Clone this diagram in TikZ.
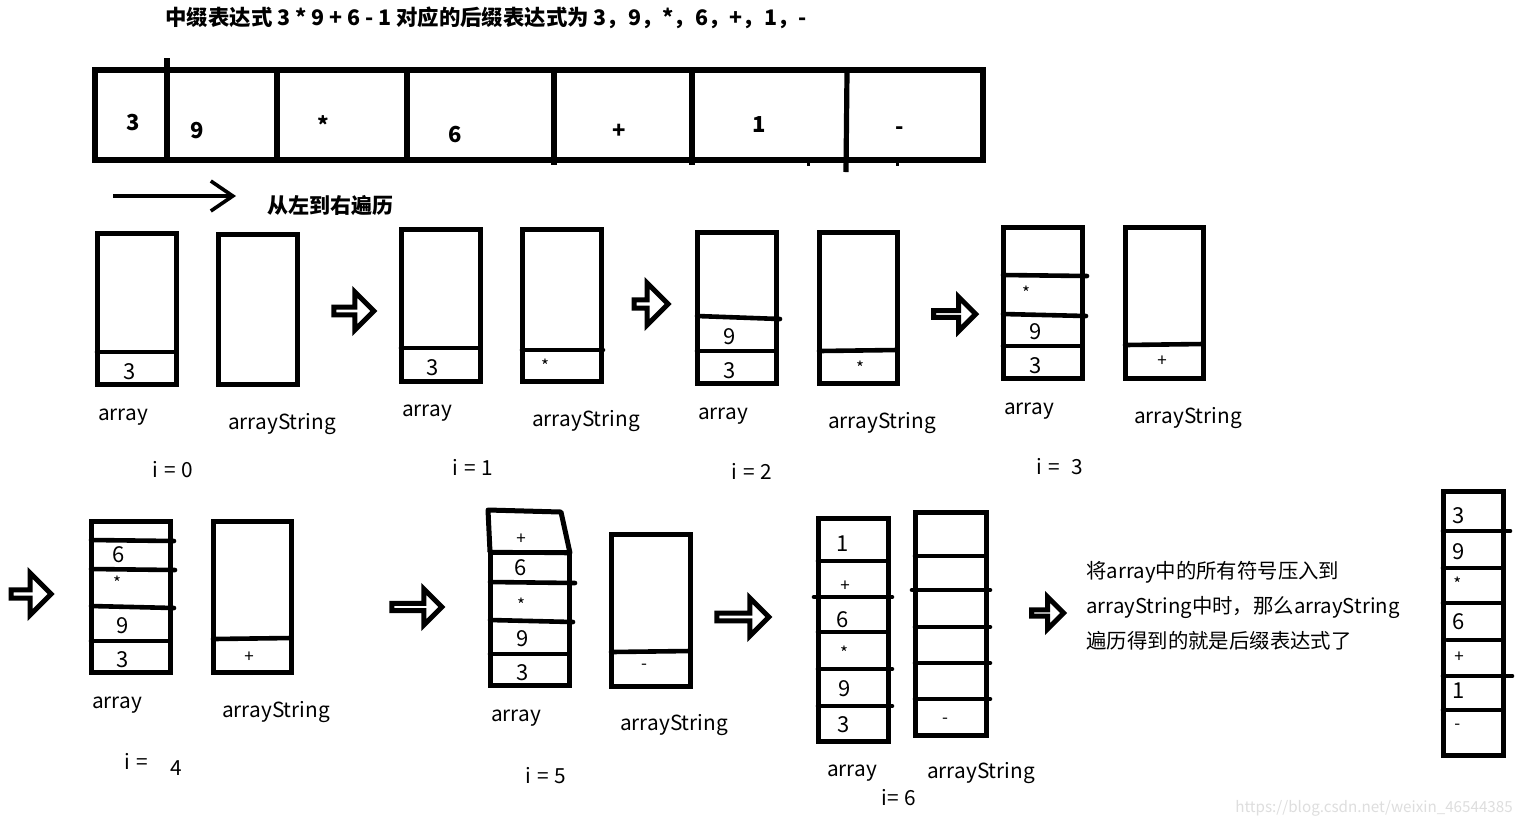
\documentclass[tikz,border=0pt]{standalone}
\usepackage{fontspec}
\setmainfont{Noto Sans CJK SC}
\usetikzlibrary{shapes.arrows,arrows.meta}
\newcommand{\gapsp}{\hspace{3pt}}
\begin{document}
\begin{tikzpicture}[x=0.5pt,y=-0.5pt,
  stk/.style={line width=2.5pt},
  dv/.style={line width=2.3pt,line cap=round},
  tline/.style={line width=2.6pt},
  lbl/.style={font=\fontsize{10.4pt}{12pt}\selectfont,inner sep=0pt},
  cell/.style={font=\fontsize{11pt}{12pt}\selectfont,inner sep=0pt},
  sym/.style={font=\fontsize{8.5pt}{9pt}\selectfont,inner sep=0pt},
  topc/.style={font=\bfseries\fontsize{11pt}{12pt}\selectfont,inner sep=0pt},
  para/.style={font=\fontsize{10.2pt}{12pt}\selectfont,inner sep=0pt,anchor=west},
  barrow/.style={single arrow,draw,line width=2.5pt,fill=white,inner sep=0pt,
    single arrow head extend=5pt,single arrow tip angle=90}
]
\useasboundingbox (0,0) rectangle (1519,827);
\fill[white] (0,0) rectangle (1519,827);

% title
\node[anchor=west,inner sep=0pt,font=\bfseries\fontsize{10.7pt}{12pt}\selectfont] (title) at (165,18)
  {中缀表达式 3 * 9 + 6 - 1 对应的后缀表达式为 3，9，*，6，+，1，-};

% top array
\draw[tline] (95,70) rectangle (983,160);
\draw[tline] (167,58) -- (167,161);
\draw[tline] (277,70) -- (277,161);
\draw[tline] (407,70) -- (407,161);
\draw[tline] (554,70) -- (554,165);
\draw[tline] (692,70) -- (692,165);
\draw[tline] (847,72) -- (846,172);
\draw[line width=1.5pt] (808,160) -- (808,166);
\draw[line width=1.5pt] (897,160) -- (897,166);
\node[topc] (t0) at (133,123) {3};
\node[topc] (t1) at (197,131) {9};
\node[topc] (t2) at (323,125) {*};
\node[topc] (t3) at (455,135) {6};
\node[topc] (t4) at (619,131) {+};
\node[topc] (t5) at (759,125) {1};
\node[topc] (t6) at (900,131) {-};

% traversal arrow
\coordinate (arS) at (113,196);
\coordinate (arE) at (236,196);
\draw[line width=1.8pt,-{Straight Barb[length=11pt,width=15pt,line width=1.8pt]}] (arS) -- (arE);
\node[inner sep=0pt,font=\bfseries\fontsize{10.5pt}{12pt}\selectfont] (dir) at (330,206) {从左到右遍历};

% ===== stage i=0
\draw[stk] (97,233) rectangle (176,384);
\draw[dv] (97,352) -- (176,352);
\node[cell] (s0a) at (130,372) {3};
\draw[stk] (218,234) rectangle (297,384);
\node[lbl] (l0a) at (123,417) {array};
\node[lbl] (l0b) at (282,424) {arrayString};
\node[lbl] (i0) at (173,470) {i\gapsp=\gapsp0};
\node[barrow,minimum height=20pt,minimum width=19pt] (b1) at (352,311) {};

% ===== stage i=1
\draw[stk] (401,229) rectangle (480,381);
\draw[dv] (401,348) -- (480,348);
\node[cell] (s1a) at (433,368) {3};
\draw[stk] (522,229) rectangle (601,381);
\draw[dv] (522,350) -- (603,350);
\node[sym] (s1b) at (545,366) {*};
\node[lbl] (l1a) at (427,413) {array};
\node[lbl] (l1b) at (586,421) {arrayString};
\node[lbl] (i1) at (473,467) {i\gapsp=\gapsp1};
\node[barrow,minimum height=17pt,minimum width=21pt] (b2) at (649,304) {};

% ===== stage i=2
\draw[stk] (697,232) rectangle (776,383);
\draw[dv] (697,316) -- (780,319);
\draw[dv] (697,351) -- (776,351);
\node[cell] (s2a) at (730,337) {9};
\node[cell] (s2b) at (730,371) {3};
\draw[stk] (819,232) rectangle (897,383);
\draw[dv] (819,351) -- (897,350);
\node[sym] (s2c) at (860,368) {*};
\node[lbl] (l2a) at (723,416) {array};
\node[lbl] (l2b) at (882,423) {arrayString};
\node[lbl] (i2) at (752,471) {i\gapsp=\gapsp2};
\node[barrow,minimum height=21pt,minimum width=17pt] (b3) at (953,314) {};

% ===== stage i=3
\draw[stk] (1003,227) rectangle (1082,378);
\draw[dv] (1003,275) -- (1087,276);
\draw[dv] (1003,314) -- (1086,316);
\draw[dv] (1003,346) -- (1082,346);
\node[sym] (s3a) at (1026,293) {*};
\node[cell] (s3b) at (1036,332) {9};
\node[cell] (s3c) at (1036,366) {3};
\draw[stk] (1125,227) rectangle (1203,378);
\draw[dv] (1125,345) -- (1203,344);
\node[sym] (s3d) at (1162,361) {+};
\node[lbl] (l3a) at (1029,411) {array};
\node[lbl] (l3b) at (1188,418) {arrayString};
\node[lbl] (i3) at (1060,467) {i\gapsp=\gapsp\gapsp3};

% ===== row 2
\node[barrow,minimum height=20pt,minimum width=21pt] (b4) at (29,594) {};

% stage i=4
\draw[stk] (91,521) rectangle (170,672);
\draw[dv] (91,540) -- (174,541);
\draw[dv] (91,569) -- (175,570);
\draw[dv] (91,606) -- (174,608);
\draw[dv] (91,641) -- (170,641);
\node[cell] (s4a) at (119,555) {6};
\node[sym] (s4b) at (117,583) {*};
\node[cell] (s4c) at (123,626) {9};
\node[cell] (s4d) at (123,660) {3};
\draw[stk] (213,521) rectangle (291,672);
\draw[dv] (213,639) -- (291,638);
\node[sym] (s4e) at (249,657) {+};
\node[lbl] (l4a) at (117,705) {array};
\node[lbl] (l4b) at (276,712) {arrayString};
\node[lbl] (i4a) at (136,761) {i\gapsp=};
\node[lbl] (i4b) at (176,768) {4};
\node[barrow,minimum height=25pt,minimum width=18pt] (b5) at (415,607) {};

% stage i=5
\draw[stk,line join=round] (490,552) -- (488,510) -- (561,512) -- (570,553);
\draw[stk] (490,552) rectangle (569,685);
\draw[dv] (490,552) -- (570,553);
\draw[dv] (490,582) -- (575,583);
\draw[dv] (490,620) -- (573,622);
\draw[dv] (490,654) -- (569,654);
\node[sym] (s5a) at (521,539) {+};
\node[cell] (s5b) at (521,568) {6};
\node[sym] (s5c) at (521,605) {*};
\node[cell] (s5d) at (523,639) {9};
\node[cell] (s5e) at (523,673) {3};
\draw[stk] (611,534) rectangle (690,686);
\draw[dv] (611,652) -- (690,651);
\node[sym] (s5f) at (644,667) {-};
\node[lbl] (l5a) at (516,718) {array};
\node[lbl] (l5b) at (674,725) {arrayString};
\node[lbl] (i5) at (546,776) {i\gapsp=\gapsp5};
\node[barrow,minimum height=26pt,minimum width=19pt] (b6) at (741,617) {};

% stage i=6
\draw[stk] (818,518) rectangle (888,741);
\draw[dv] (818,561) -- (888,561);
\draw[dv] (814,597) -- (892,597);
\draw[dv] (818,632) -- (888,632);
\draw[dv] (818,669) -- (892,669);
\draw[dv] (818,706) -- (892,706);
\node[cell] (s6a) at (843,544) {1};
\node[sym] (s6b) at (845,586) {+};
\node[cell] (s6c) at (843,620) {6};
\node[sym] (s6d) at (844,653) {*};
\node[cell] (s6e) at (845,689) {9};
\node[cell] (s6f) at (844,725) {3};
\draw[stk] (915,512) rectangle (986,735);
\draw[dv] (915,556) -- (986,556);
\draw[dv] (912,590) -- (990,590);
\draw[dv] (915,627) -- (990,627);
\draw[dv] (915,663) -- (990,663);
\draw[dv] (915,699) -- (990,699);
\node[sym] (s6g) at (945,721) {-};
\node[lbl] (l6a) at (852,773) {array};
\node[lbl] (l6b) at (981,773) {arrayString};
\node[lbl] (i6) at (899,798) {i=\gapsp6};
\node[barrow,minimum height=16pt,minimum width=16pt] (b7) at (1046,613) {};

% explanation
\node[para] (p1) at (1086,572) {将array中的所有符号压入到};
\node[para] (p2) at (1086,607) {arrayString中时，那么arrayString};
\node[para] (p3) at (1086,641) {遍历得到的就是后缀表达式了};

% final stack
\draw[stk] (1443,491) rectangle (1503,755);
\draw[dv] (1443,531) -- (1510,531);
\draw[dv] (1443,568) -- (1503,568);
\draw[dv] (1443,603) -- (1503,603);
\draw[dv] (1447,640) -- (1503,640);
\draw[dv] (1443,676) -- (1512,676);
\draw[dv] (1443,710) -- (1503,710);
\node[cell,anchor=west] (f1) at (1452,516) {3};
\node[cell,anchor=west] (f2) at (1452,552) {9};
\node[sym,anchor=west] (f3) at (1453,584) {*};
\node[cell,anchor=west] (f4) at (1452,622) {6};
\node[sym,anchor=west] (f5) at (1454,657) {+};
\node[cell,anchor=west] (f6) at (1452,691) {1};
\node[sym,anchor=west] (f7) at (1454,727) {-};

% watermark
\node[inner sep=0pt,text=black!13,font=\fontsize{7.6pt}{9pt}\selectfont] (wm) at (1374,808) {https://blog.csdn.net/weixin\_46544385};
\end{tikzpicture}
\end{document}
